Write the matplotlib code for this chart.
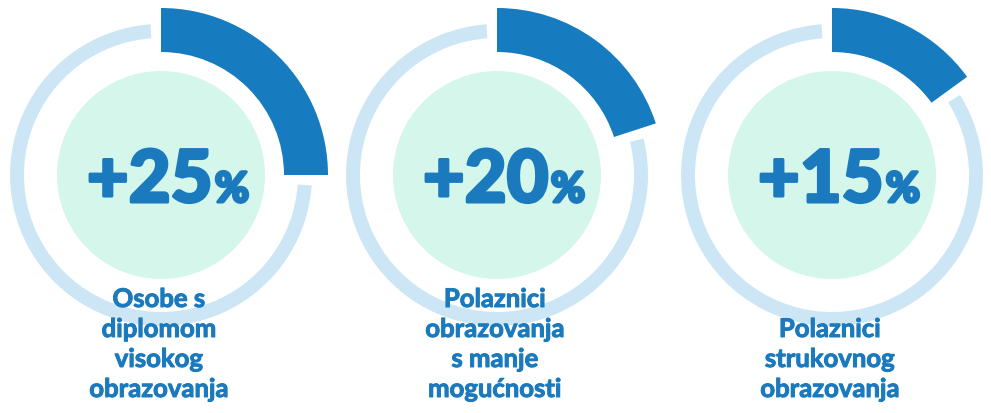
import matplotlib
matplotlib.use('Agg')
import matplotlib.pyplot as plt
import matplotlib.patheffects as pe
from matplotlib.patches import Wedge, Circle

# podaci
values = [25, 20, 15]
numbers = ['+25', '+20', '+15']
labels = [
    ['Osobe s', 'diplomom', 'visokog', 'obrazovanja'],
    ['Polaznici', 'obrazovanja', 's manje', 'mogućnosti'],
    ['Polaznici', 'strukovnog', 'obrazovanja'],
]

# boje
dark_blue = '#167bbf'
light_blue = '#cce6f5'
mint = '#d4f6eb'
text_blue = '#1a7abd'

plt.rcParams['font.family'] = ['Lato', 'DejaVu Sans']

W, H = 991, 413
fig = plt.figure(figsize=(W / 100, H / 100), dpi=100)
ax = fig.add_axes([0, 0, 1, 1])
ax.set_xlim(0, W)
ax.set_ylim(0, H)
ax.set_aspect('equal')
ax.axis('off')

centers_x = [161, 497, 832]
cy = H - 175
gap = 4  # stupnjevi

# malo deblji potez da slova budu "teža" kao u originalu
thick_num = [pe.withStroke(linewidth=2.2, foreground=text_blue)]
thick_txt = [pe.withStroke(linewidth=0.7, foreground=text_blue)]

fig.canvas.draw()
renderer = fig.canvas.get_renderer()

for cx, v, num, lines in zip(centers_x, values, numbers, labels):
    end_angle = 90 - 360 * v / 100
    # svijetli prsten
    ax.add_patch(Wedge((cx, cy), 151, 90 + gap, 360 + end_angle - gap,
                       width=14, facecolor=light_blue, edgecolor='none'))
    # tamni luk (postotak)
    ax.add_patch(Wedge((cx, cy), 167, end_angle, 90,
                       width=44, facecolor=dark_blue, edgecolor='none'))
    # unutarnji krug
    ax.add_patch(Circle((cx, cy), 104, facecolor=mint, edgecolor='none'))

    # veliki broj + manji znak %
    base_y = H - 202
    t1 = ax.text(0, base_y, num, fontsize=52, fontweight='black',
                 color=text_blue, ha='left', va='baseline', path_effects=thick_num)
    t2 = ax.text(0, base_y, '%', fontsize=30, fontweight='black',
                 color=text_blue, ha='left', va='baseline', path_effects=thick_num)
    w1 = t1.get_window_extent(renderer).width
    w2 = t2.get_window_extent(renderer).width
    sep = 2
    start = cx + 7 - (w1 + w2 + sep) / 2
    t1.set_x(start)
    t2.set_x(start + w1 + sep)

    # opis ispod
    n = len(lines)
    for i, line in enumerate(lines):
        y = 16 + 30 * (n - 1 - i)
        ax.text(cx - 2, y, line, fontsize=18.5, fontweight='bold',
                color=text_blue, ha='center', va='baseline', path_effects=thick_txt)

fig.savefig('out.png', dpi=100, facecolor='white')
